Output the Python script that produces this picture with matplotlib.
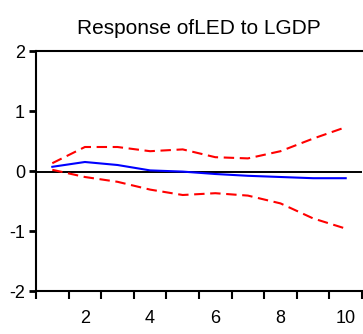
import numpy as np
import matplotlib.pyplot as plt
from matplotlib.ticker import FixedLocator

plt.rcParams['font.family'] = ['Liberation Sans', 'DejaVu Sans']
plt.rcParams['axes.unicode_minus'] = False

periods = [1, 2, 3, 4, 5, 6, 7, 8, 9, 10]
response = [0.07, 0.15, 0.10, 0.01, -0.01, -0.05, -0.08, -0.10, -0.12, -0.12]
upper = [0.13, 0.40, 0.40, 0.33, 0.36, 0.23, 0.21, 0.33, 0.54, 0.73]
lower = [0.02, -0.10, -0.18, -0.31, -0.40, -0.37, -0.41, -0.54, -0.79, -0.96]
x_labels = [2, 4, 6, 8, 10]
y_ticks = [-2, -1, 0, 1, 2]

fig = plt.figure(figsize=(3.63, 3.34), dpi=100)
ax = fig.add_axes([36 / 363, 43 / 334, 326 / 363, 240 / 334])

ax.axhline(-0.02, color='black', lw=1.4, zorder=1)
ax.plot(periods, response, color='#0000ff', lw=1.5, zorder=3)
ax.plot(periods, upper, color='red', lw=1.5, ls=(0, (5, 2.7)), zorder=2)
ax.plot(periods, lower, color='red', lw=1.5, ls=(0, (5, 2.7)), zorder=2)

ax.set_xlim(0.5, 10.5)
ax.set_ylim(-2, 2)

ax.set_xticks(x_labels)
ax.xaxis.set_minor_locator(FixedLocator(np.arange(0.5, 11, 1.0)))
ax.tick_params(axis='x', which='major', length=0, pad=14, labelsize=13)
ax.tick_params(axis='x', which='minor', direction='out', length=6, width=1.5)
ax.set_yticks(y_ticks)
ax.tick_params(axis='y', direction='out', length=5, width=2, pad=3, labelsize=13)

for s in ['left', 'top', 'bottom']:
    ax.spines[s].set_linewidth(1.5)
ax.spines['right'].set_visible(False)

ax.set_title('Response ofLED to LGDP', fontsize=15, pad=12)

fig.savefig('out.png', dpi=100)
